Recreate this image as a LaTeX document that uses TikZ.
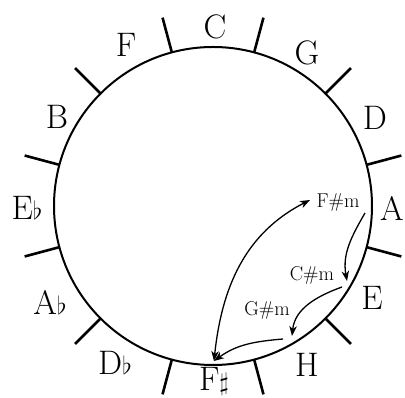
\documentclass[tikz,border=0pt]{standalone}
\usetikzlibrary{arrows.meta}
\begin{document}
\begin{tikzpicture}[x=1pt,y=1pt,
  key/.style={inner sep=0pt, font=\fontsize{34}{40}\selectfont},
  chord/.style={inner sep=0pt, font=\fontsize{20}{24}\selectfont},
  ring/.style={line width=2pt},
  tick/.style={line width=2.6pt},
  conn/.style={line width=1.3pt, -{Stealth[length=10pt,width=7.5pt,inset=3pt]}},
  dconn/.style={line width=1.3pt, {Stealth[length=10pt,width=7.5pt,inset=3pt]}-{Stealth[length=10pt,width=7.5pt,inset=3pt]}}]
\useasboundingbox (0,0) rectangle (405,398);
\coordinate (O) at (213,192);
\draw[ring] (O) circle[radius=159];
\foreach \a in {15,45,...,345}{
  \draw[tick] (O) ++(\a:159) -- ++(\a:36);
}
\node[key] (kC)  at (215,371) {C};
\node[key] (kG)  at (307,345) {G};
\node[key] (kD)  at (375,280) {D};
\node[key] (kA)  at (392,190) {A};
\node[key] (kE)  at (372,100) {E};
\node[key] (kH)  at (307,33) {H};
\node[key, anchor=base] (kFs) at (214,7) {F$\sharp$};
\node[key] (kDb) at (115,35) {D$\flat$};
\node[key] (kAb) at (50,96) {A$\flat$};
\node[key] (kEb) at (27,190) {E$\flat$};
\node[key] (kB)  at (57,281) {B};
\node[key] (kF)  at (126,353) {F};
\node[chord] (fm) at (338,195) {F\#m};
\node[chord] (cm) at (312,123) {C\#m};
\node[chord] (gm) at (267,88) {G\#m};
\coordinate (fs) at (214,37);
\coordinate (fmS) at (365,185);
\coordinate (fmT) at (310,198);
\coordinate (cmT) at (347,117);
\coordinate (cmS) at (342,111);
\coordinate (gmT) at (292,62);
\coordinate (gmS) at (283,59);
\draw[conn] (fmS) to[out=-120,in=100] (cmT);
\draw[conn] (cmS) to[out=-160,in=84] (gmT);
\draw[conn] (gmS) to[out=-175,in=36] (fs);
\draw[dconn] (fs) to[out=84,in=-153] (fmT);
\end{tikzpicture}
\end{document}
